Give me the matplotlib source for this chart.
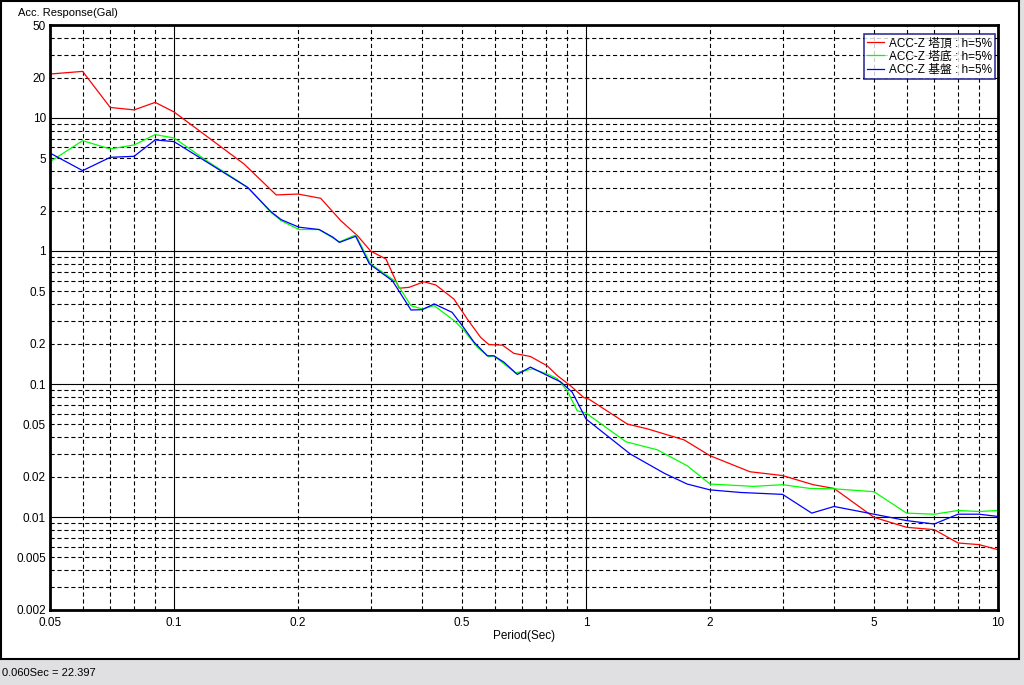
import numpy as np
import matplotlib
matplotlib.use("Agg")
import matplotlib.pyplot as plt
from matplotlib.ticker import LogLocator, FuncFormatter
from matplotlib.patches import Rectangle

plt.rcParams['font.family'] = ['Liberation Sans', 'Noto Sans CJK JP', 'DejaVu Sans']
plt.rcParams['lines.scale_dashes'] = False

# response spectra (period in sec, acceleration in Gal)
red_T = [0.05, 0.06, 0.07, 0.08, 0.09, 0.1, 0.148, 0.177, 0.2, 0.227, 0.254, 0.279,
         0.30, 0.327, 0.352, 0.372, 0.404, 0.432, 0.478, 0.515, 0.555, 0.581, 0.627,
         0.668, 0.733, 0.805, 0.851, 0.917, 0.988, 1.016, 1.26, 1.41, 1.73, 2.0, 2.5,
         3.0, 3.56, 4.0, 5.0, 6.0, 7.0, 8.0, 9.0, 10.0]
red_A = [21.4, 22.4, 12.0, 11.5, 13.1, 11.1, 4.5, 2.64, 2.68, 2.49, 1.69, 1.30,
         1.0, 0.87, 0.525, 0.533, 0.587, 0.555, 0.435, 0.308, 0.224, 0.198, 0.196,
         0.17, 0.161, 0.137, 0.116, 0.097, 0.079, 0.077, 0.050, 0.046, 0.038, 0.0289, 0.0219,
         0.0205, 0.0175, 0.0164, 0.00995, 0.00837, 0.00804, 0.00638, 0.0062, 0.00568]

green_T = [0.05, 0.06, 0.07, 0.08, 0.09, 0.1, 0.121, 0.151, 0.172, 0.182, 0.201, 0.225,
           0.252, 0.276, 0.30, 0.345, 0.376, 0.401, 0.428, 0.479, 0.506, 0.545, 0.581,
           0.597, 0.675, 0.741, 0.805, 0.851, 0.90, 0.952, 1.0, 1.25, 1.49, 1.76, 2.0,
           2.55, 3.0, 3.5, 4.0, 5.0, 6.0, 7.0, 8.0, 9.0, 10.0]
green_A = [4.69, 6.75, 5.85, 6.27, 7.5, 7.08, 4.69, 3.01, 1.95, 1.69, 1.45, 1.45,
           1.17, 1.32, 0.80, 0.59, 0.388, 0.366, 0.388, 0.299, 0.252, 0.189, 0.160,
           0.163, 0.121, 0.130, 0.119, 0.110, 0.089, 0.063, 0.0605, 0.0368, 0.032, 0.0243, 0.0177,
           0.0170, 0.0175, 0.0164, 0.0163, 0.0155, 0.0107, 0.0105, 0.0112, 0.011, 0.0112]

blue_T = [0.05, 0.06, 0.07, 0.08, 0.09, 0.1, 0.121, 0.151, 0.172, 0.182, 0.201, 0.225,
          0.243, 0.252, 0.276, 0.298, 0.339, 0.376, 0.40, 0.428, 0.473, 0.501, 0.535,
          0.576, 0.597, 0.632, 0.681, 0.733, 0.805, 0.867, 0.926, 1.0, 1.28, 1.55, 1.76,
          2.0, 2.37, 3.0, 3.53, 4.0, 5.0, 6.0, 7.0, 8.0, 9.0, 10.0]
blue_A = [5.45, 4.02, 5.06, 5.15, 6.84, 6.64, 4.6, 3.0, 1.97, 1.72, 1.51, 1.45,
          1.27, 1.16, 1.29, 0.80, 0.597, 0.36, 0.362, 0.40, 0.346, 0.274, 0.206,
          0.163, 0.163, 0.146, 0.118, 0.134, 0.116, 0.104, 0.0867, 0.0546, 0.0298, 0.0213, 0.0177,
          0.016, 0.0153, 0.0148, 0.0107, 0.012, 0.0105, 0.0094, 0.00886, 0.0105, 0.0105, 0.0101]

series_labels = ['ACC-Z 塔頂 : h=5%', 'ACC-Z 塔底 : h=5%', 'ACC-Z 基盤 : h=5%']
status_text = '0.060Sec = 22.397'

fig = plt.figure(figsize=(10.24, 6.85), dpi=100)

# window frame and status bar
fig.patches.append(Rectangle((0, 0), 1, 25 / 685, transform=fig.transFigure,
                             facecolor='#e0e0e3', edgecolor='none', zorder=0))
fig.patches.append(Rectangle((1019 / 1024, 0), 5 / 1024, 1, transform=fig.transFigure,
                             facecolor='#e0e0e3', edgecolor='none', zorder=0))
fig.patches.append(Rectangle((0.5 / 1024, 26 / 685), 1018 / 1024, 658 / 685,
                             transform=fig.transFigure, facecolor='none',
                             edgecolor='black', linewidth=1.5, zorder=1))
fig.text(2 / 1024, 12 / 685, status_text, fontsize=8, va='center', ha='left')

ax = fig.add_axes([50 / 1024, 75 / 685, 948 / 1024, 585 / 685])
ax.set_xscale('log')
ax.set_yscale('log')
ax.set_xlim(0.05, 10)
ax.set_ylim(0.002, 50)

ax.plot(red_T, red_A, color='#ff0000', lw=0.9, label=series_labels[0])
ax.plot(green_T, green_A, color='#00ff00', lw=0.9, label=series_labels[1])
ax.plot(blue_T, blue_A, color='#0000ff', lw=0.9, label=series_labels[2])

sub = np.arange(2, 10)
for axis in (ax.xaxis, ax.yaxis):
    axis.set_major_locator(LogLocator(base=10, numticks=20))
    axis.set_minor_locator(LogLocator(base=10, subs=sub, numticks=20))


def fmt(v, pos):
    m = round(v / 10 ** np.floor(np.log10(v) + 1e-9), 3)
    if m in (1, 2, 5):
        return '%g' % v
    return ''


ax.xaxis.set_major_formatter(FuncFormatter(fmt))
ax.xaxis.set_minor_formatter(FuncFormatter(fmt))
ax.yaxis.set_major_formatter(FuncFormatter(fmt))
ax.yaxis.set_minor_formatter(FuncFormatter(fmt))
ax.tick_params(which='both', length=0, labelsize=8.5, pad=3)
ax.tick_params(axis='x', which='both', pad=5)

ax.grid(which='major', color='black', linestyle='-', linewidth=0.8)
ax.grid(which='minor', color='black', linestyle=(0, (3, 2)), linewidth=0.8)
ax.set_axisbelow(True)
for s in ax.spines.values():
    s.set_linewidth(2)

ax.set_xlabel('Period(Sec)', fontsize=8.5, labelpad=1)
fig.text(18 / 1024, 1 - 13 / 685, 'Acc. Response(Gal)', fontsize=8, va='center', ha='left')

leg = ax.legend(loc='upper right', bbox_to_anchor=(0.997, 0.984), fontsize=8.5,
                frameon=True, fancybox=False, borderaxespad=0, handlelength=1.4,
                borderpad=0.25, labelspacing=0.1, handletextpad=0.45)
leg.get_frame().set_edgecolor('#000080')
leg.get_frame().set_linewidth(1.2)

fig.savefig('out.png', dpi=100)
